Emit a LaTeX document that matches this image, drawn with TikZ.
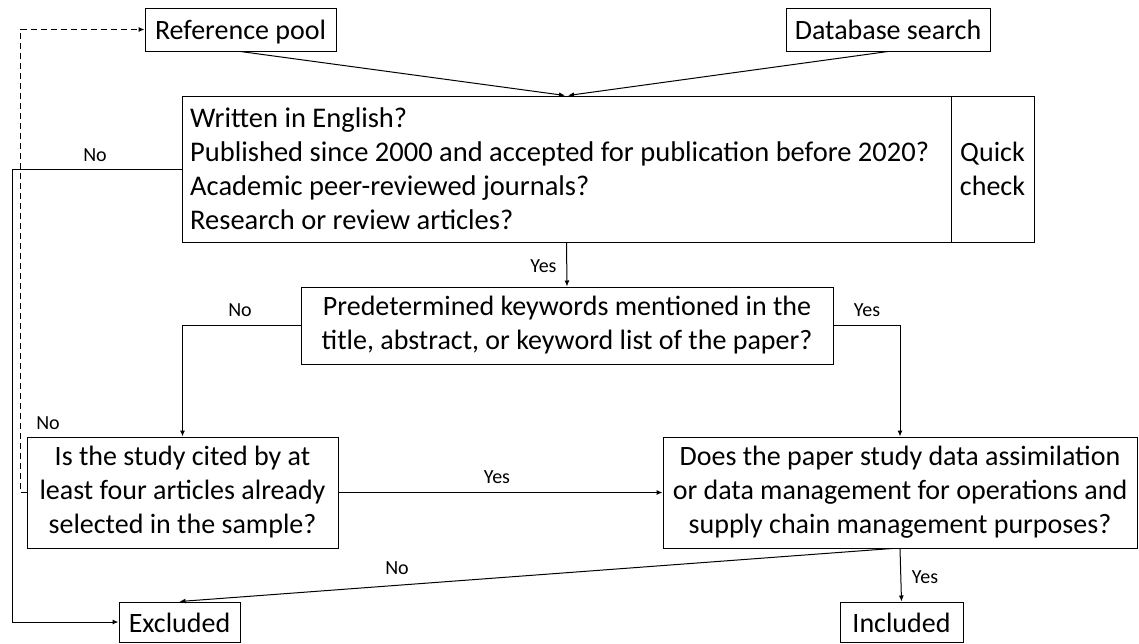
\documentclass[tikz,border=0pt]{standalone}
\usepackage{fontspec}
\setmainfont{Carlito}
\usetikzlibrary{arrows.meta,calc}
\begin{document}
\begin{tikzpicture}[x=1pt,y=-1pt,
  box/.style={draw,line width=1pt,inner sep=0pt,align=center,font=\fontsize{28}{34}\selectfont},
  oneline/.style={text height=24pt,text depth=4pt},
  txt/.style={inner sep=0pt,align=left,font=\fontsize{28.5}{34}\selectfont},
  lbl/.style={font=\fontsize{20}{22}\selectfont,inner sep=0pt},
  arr/.style={line width=1pt,-{Latex[length=6pt,width=5pt]}},
  darr/.style={line width=1pt,dash pattern=on 6pt off 4pt,-{Latex[length=6pt,width=5pt]}}]
\useasboundingbox (0,0) rectangle (1139,643);
\node[box,oneline,minimum width=191pt,minimum height=43pt] (refpool) at (240.5,29.5) {Reference pool};
\node[box,oneline,minimum width=204pt,minimum height=43pt] (dbsearch) at (888,29.5) {Database search};
\node[box,minimum width=769pt,minimum height=146pt] (main) at (566.5,169) {};
\node[txt,anchor=west] (maintext) at (190,169)
  {Written in English?\\Published since 2000 and accepted for publication before 2020?\\Academic peer-reviewed journals?\\Research or review articles?};
\node[box,minimum width=83pt,minimum height=146pt] (quick) at (992.5,169) {Quick\\check};
\node[box,minimum width=532pt,minimum height=77pt] (pred) at (567,325.5)
  {Predetermined keywords mentioned in the\\title, abstract, or keyword list of the paper?};
\node[box,minimum width=311pt,minimum height=111pt] (isstudy) at (182.5,492.5)
  {Is the study cited by at\\least four articles already\\selected in the sample?};
\node[box,minimum width=474pt,minimum height=111pt] (does) at (900,492.5)
  {Does the paper study data assimilation\\or data management for operations and\\supply chain management purposes?};
\node[box,oneline,minimum width=121pt,minimum height=40pt] (excluded) at (179.5,622) {Excluded};
\node[box,oneline,minimum width=123pt,minimum height=40pt] (included) at (901.5,622) {Included};
% connectors
\draw[arr] (refpool.south) -- ($(main.north)+(-1.5,0)$);
\draw[arr] (dbsearch.south) -- ($(main.north)+(1.5,0)$);
\coordinate (l1) at (12,169);
\coordinate (l2) at (12,622);
\draw[arr] (main.west) -- (l1) -- (l2) -- (excluded.west);
\node[lbl] (no1) at (95,155) {No};
\coordinate (d1) at (20,492.5);
\coordinate (d2) at (20,29.5);
\draw[darr] (isstudy.west) -- (d1) -- (d2) -- (refpool.west);
\node[lbl] (no2) at (48,423) {No};
\draw[arr] (main.south) -- (pred.north);
\node[lbl] (yes1) at (543.5,266) {Yes};
\coordinate (p1) at (182.5,325.5);
\draw[arr] (pred.west) -- (p1) -- (isstudy.north);
\node[lbl] (no3) at (240,310) {No};
\coordinate (p2) at (900,325.5);
\draw[arr] (pred.east) -- (p2) -- (does.north);
\node[lbl] (yes2) at (867,310) {Yes};
\draw[arr] (isstudy.east) -- (does.west);
\node[lbl] (yes3) at (497,477) {Yes};
\draw[arr] ($(does.south)+(-8,0)$) -- (excluded.north);
\node[lbl] (no4) at (397,568) {No};
\draw[arr] (does.south) -- (included.north);
\node[lbl] (yes4) at (925,577) {Yes};
\end{tikzpicture}
\end{document}
